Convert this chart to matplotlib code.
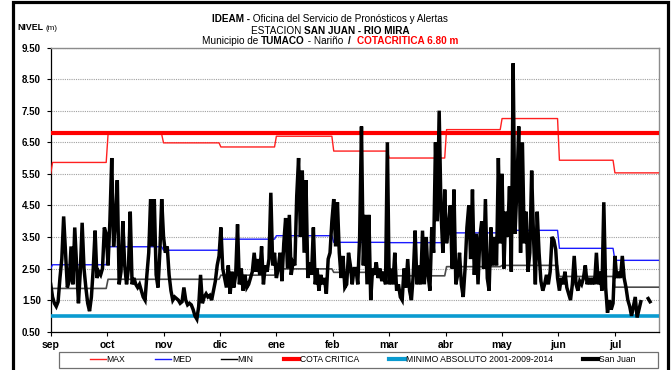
import numpy as np
import matplotlib
matplotlib.use("Agg")
import matplotlib.pyplot as plt
from matplotlib.lines import Line2D
from matplotlib.patches import Rectangle

plt.rcParams['font.family'] = ['Liberation Sans', 'DejaVu Sans']

# --- datos -----------------------------------------------------------------
meses = ['sep', 'oct', 'nov', 'dic', 'ene', 'feb', 'mar', 'abr', 'may', 'jun', 'jul']
dias_mes = 30.5

# niveles mensuales historicos (m)
nivel_max = [5.86, 6.75, 6.48, 6.35, 6.69, 6.22, 6.00, 6.90, 7.25, 5.93, 5.53]
nivel_med = [2.62, 3.19, 3.08, 3.43, 3.54, 3.33, 3.32, 3.63, 3.71, 3.14, 2.76]
nivel_min = [1.87, 2.16, 2.16, 2.29, 2.49, 2.38, 2.27, 2.56, 2.60, 2.25, 1.91]
inicio_max, inicio_med, inicio_min = 5.50, 2.50, 1.75

cota_critica = 6.80
minimo_absoluto = 1.00

# nivel diario San Juan (m), desde el 1 de septiembre
nan = np.nan
san_juan = [
    # sep
    2.0, 1.6, 1.4, 1.3, 1.45, 2.2, 2.8, 4.15, 3.0, 1.9, 2.1, 3.2, 2.0, 3.8, 2.6,
    1.4, 2.4, 3.95, 2.5, 1.9, 1.4, 1.15, 1.6, 2.5, 3.7, 2.2, 2.4, 2.3, 2.5, 3.8,
    # oct
    3.6, 2.6, 4.0, 6.0, 3.2, 4.0, 5.3, 2.0, 2.4, 4.0, 2.6, 2.0, 2.5, 4.3, 2.0,
    2.2, 2.0, 1.9, 2.0, 1.8, 1.6, 1.5, 2.3, 3.0, 4.7, 3.2, 4.7, 2.3, 1.9, 3.0, 4.7,
    # nov
    3.5, 3.0, 3.2, 2.3, 1.8, 1.5, 1.6, 1.55, 1.5, 1.4, 1.45, 1.9, 1.5, 1.35, 1.4,
    1.35, 1.2, 1.0, 0.9, 1.3, 2.3, 1.4, 1.6, 1.7, 1.6, 1.65, 1.5, 1.8, 2.1, 2.6,
    # dic
    2.9, 3.8, 2.5, 2.2, 1.9, 2.6, 1.7, 2.4, 1.9, 2.3, 3.9, 2.0, 2.5, 1.8, 2.3,
    1.9, 2.0, 2.2, 2.4, 3.0, 2.4, 2.8, 2.3, 3.2, 2.0, 2.6, 2.4, 2.8, 4.9, 2.6, 3.0,
    # ene
    2.2, 2.5, 3.0, 2.1, 3.3, 4.1, 2.5, 4.2, 2.3, 2.7, 2.6, 4.8, 6.0, 3.5, 5.6,
    3.0, 5.3, 2.2, 2.7, 2.3, 3.8, 2.0, 2.5, 1.8, 2.3, 2.0, 2.2, 1.7, 2.8, 3.0, 4.0,
    # feb
    4.7, 3.2, 4.6, 3.0, 2.2, 2.9, 1.9, 2.0, 3.0, 2.6, 2.0, 2.5, 2.5, 2.0, 3.5,
    7.0, 2.6, 4.2, 2.0, 4.2, 1.5, 2.5, 2.3, 2.7, 2.2, 2.5, 2.1, 2.4,
    # mar
    2.0, 6.5, 2.0, 2.5, 2.0, 3.0, 1.8, 2.0, 1.6, 1.5, 2.5, 1.9, 2.8, 1.8, 1.5,
    2.3, 3.7, 2.0, 2.6, 2.0, 3.7, 2.0, 3.5, 2.3, 1.8, 3.8, 3.0, 6.5, 4.0, 7.5, 4.3,
    # abr
    3.0, 5.0, 3.3, 3.8, 4.5, 2.5, 5.0, 2.0, 2.3, 3.0, 2.0, 1.6, 2.5, 3.8, 4.5,
    2.8, 5.0, 2.3, 3.6, 2.0, 3.5, 4.0, 2.5, 4.7, 2.2, 1.8, 3.8, 2.6, 3.5, 2.6,
    # may
    6.0, 3.3, 5.5, 2.5, 4.3, 3.5, 5.1, 2.4, 9.0, 3.6, 5.0, 7.0, 3.0, 6.5, 3.3,
    4.3, 2.4, 3.0, 5.6, 3.5, 2.0, 4.3, 3.0, 2.1, 1.8, 2.0, 2.3, 2.0, 2.4, 3.5, 3.4,
    # jun
    3.1, 2.2, 1.8, 2.2, 2.0, 2.4, 1.9, 1.7, 1.5, 2.0, 2.9, 2.0, 1.8, 2.1, 2.0,
    2.2, 2.6, 2.0, 2.2, 2.0, 2.2, 2.0, 3.0, 2.0, 2.4, 1.8, 4.6, 1.9, 1.1, 1.5,
    # jul
    1.2, 1.4, 2.9, 2.2, 2.4, 2.2, 2.9, 2.2, 1.9, 1.5, 1.3, 1.0, 1.3, 1.6, 0.95,
    1.2, 1.45, nan, 1.5, nan, 1.55, 1.45,
]

# --- figura ----------------------------------------------------------------
W, H = 671, 370
fig = plt.figure(figsize=(W / 100, H / 100), dpi=100)
ax = fig.add_axes([50.7 / W, 1 - 331.7 / H, (659.3 - 50.7) / W, (331.7 - 47.5) / H])

dias = np.arange(330)
mes_idx = np.minimum((dias // dias_mes).astype(int), len(meses) - 1)

def serie_mensual(valores, inicio):
    y = np.asarray(valores)[mes_idx].astype(float)
    y[0] = inicio
    return y

ax.plot(dias, serie_mensual(nivel_max, inicio_max), color='#ff2020', lw=1.0, zorder=3)
ax.plot(dias, serie_mensual(nivel_med, inicio_med), color='#1a1aff', lw=1.0, zorder=3)
ax.plot(dias, serie_mensual(nivel_min, inicio_min), color='#4a4a4a', lw=1.2, zorder=3)
ax.axhline(cota_critica, color='#ff0000', lw=3.0, zorder=4)
ax.axhline(minimo_absoluto, color='#0a9bd0', lw=2.6, zorder=4)
ax.plot(np.arange(len(san_juan)), san_juan, color='black', lw=2.5, zorder=5,
        solid_joinstyle='miter')

ax.set_xlim(0, 329)
ax.set_ylim(0.5, 9.5)
ax.set_yticks(np.arange(0.5, 9.6, 1.0))
ax.set_yticklabels([f'{v:.2f}' for v in np.arange(0.5, 9.6, 1.0)],
                   fontsize=7, fontweight='bold')
ax.set_xticks(np.arange(len(meses)) * dias_mes)
ax.set_xticklabels(meses, fontsize=7.5, fontweight='bold')
ax.tick_params(axis='y', length=3, width=0.8, pad=4)
ax.tick_params(axis='x', length=3, width=0.8, pad=3)
ax.grid(axis='y', color='#a0a0a0', linestyle=(0, (1, 1)), lw=0.8, zorder=0)
ax.set_axisbelow(True)
for lado in ('top', 'right'):
    ax.spines[lado].set_color('#8c8c8c')
    ax.spines[lado].set_linewidth(1.0)
for lado in ('left', 'bottom'):
    ax.spines[lado].set_color('black')
    ax.spines[lado].set_linewidth(0.9)

# marco exterior
fig.patches.append(Rectangle((13 / W, -0.05), (668 - 13) / W, 1.05 - 2 / H,
                             transform=fig.transFigure, fill=False,
                             edgecolor='black', lw=2.3, clip_on=False))

# --- titulo con estilos mezclados -------------------------------------------
renderer = fig.canvas.get_renderer()

def linea_titulo(y_px, partes, fs=7.2, cx=330):
    textos = []
    for s, peso, color in partes:
        textos.append(fig.text(0, 1 - y_px / H, s, fontsize=fs, fontweight=peso,
                               color=color, ha='left', va='center'))
    anchos = [t.get_window_extent(renderer).width for t in textos]
    x = cx - sum(anchos) / 2
    for t, a in zip(textos, anchos):
        t.set_x(x / W)
        x += a

linea_titulo(19, [('IDEAM -', 'bold', 'black'),
                  (' Oficina del Servicio de Pronósticos y Alertas', 'normal', 'black')])
linea_titulo(30.5, [('ESTACION ', 'normal', 'black'),
                    ('SAN JUAN - RIO MIRA', 'bold', 'black')])
linea_titulo(41.5, [('Municipio de ', 'normal', 'black'),
                    ('TUMACO', 'bold', 'black'),
                    (' - Nariño  ', 'normal', 'black'),
                    ('/  ', 'bold', 'black'),
                    ('COTACRITICA 6.80 m', 'bold', '#ff0000')])

t1 = fig.text(17 / W, 1 - 28 / H, 'NIVEL', fontsize=6.3, fontweight='bold',
              ha='left', va='center')
w1 = t1.get_window_extent(renderer).width
fig.text((17 + w1 + 2) / W, 1 - 28 / H, '(m)', fontsize=5.8, ha='left', va='center')

# --- leyenda ---------------------------------------------------------------
fig.patches.append(Rectangle((59 / W, 1 - 368 / H), (658 - 59) / W, 16 / H,
                             transform=fig.transFigure, facecolor='white',
                             edgecolor='#707070', lw=0.9))
handles = [
    Line2D([], [], color='#ff2020', lw=1.0),
    Line2D([], [], color='#1a1aff', lw=1.0),
    Line2D([], [], color='black', lw=1.0),
    Line2D([], [], color='#ff0000', lw=3.0),
    Line2D([], [], color='#0a9bd0', lw=3.0),
    Line2D([], [], color='black', lw=3.0),
]
labels = ['MAX', 'MED', 'MIN', 'COTA CRITICA', 'MINIMO ABSOLUTO 2001-2009-2014', 'San Juan']
leg = fig.legend(handles, labels, ncol=6, loc='center',
                 bbox_to_anchor=(363 / W, 1 - 360 / H), fontsize=6.2,
                 frameon=False, handlelength=1.8, handletextpad=0.1,
                 columnspacing=3.5, borderpad=0.2, borderaxespad=0)

fig.savefig('out.png', dpi=100)
